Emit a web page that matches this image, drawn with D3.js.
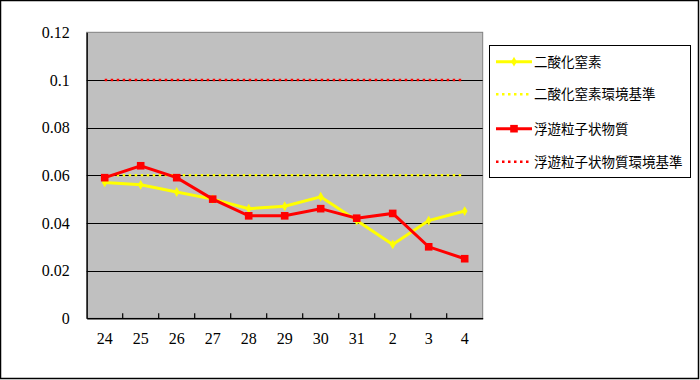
<!DOCTYPE html>
<html><head><meta charset="utf-8">
<script src="https://cdn.jsdelivr.net/npm/d3@7"></script>
<style>body{margin:0;background:#fff}svg{display:block}</style>
</head><body><svg id="c" width="700" height="380"></svg>
<script>
const categories = ["24","25","26","27","28","29","30","31","2","3","4"];
const no2 = [0.057,0.056,0.053,0.050,0.046,0.047,0.051,0.041,0.031,0.041,0.045];
const spm = [0.059,0.064,0.059,0.050,0.043,0.043,0.046,0.042,0.044,0.030,0.025];
const no2Std = 0.06;
const spmStd = 0.1;
const yTicks = [0,0.02,0.04,0.06,0.08,0.1,0.12];
const seriesNames = ["二酸化窒素","二酸化窒素環境基準","浮遊粒子状物質","浮遊粒子状物質環境基準"];

const SERIF = "'Liberation Serif', 'DejaVu Serif', serif";
const svg = d3.select("#c");
svg.append("rect").attr("x",0.5).attr("y",0.5).attr("width",698).attr("height",378)
  .attr("fill","#fff").attr("stroke","#000").attr("stroke-width",1.5);

const L=86.7, R=482.7, T=32.3, B=318.3;
const x = d3.scaleBand().domain(categories).range([L,R]);
const y = d3.scaleLinear().domain([0,0.12]).range([B,T]);
const cx = c => x(c)+x.bandwidth()/2;

svg.append("rect").attr("x",L).attr("y",T).attr("width",R-L).attr("height",B-T)
  .attr("fill","#c0c0c0").attr("stroke","#808080").attr("stroke-width",1);

svg.append("g").selectAll("line").data(yTicks.filter(v=>v>0&&v<0.12)).join("line")
  .attr("x1",L).attr("x2",R).attr("y1",d=>Math.round(y(d))+0.5).attr("y2",d=>Math.round(y(d))+0.5)
  .attr("stroke","#000").attr("stroke-width",1.2);

const ya = svg.append("g").attr("transform",`translate(${L},0)`)
  .call(d3.axisLeft(y).tickValues(yTicks).tickSize(0).tickPadding(17).tickFormat(d=>String(+d.toFixed(2))));
ya.selectAll("text").style("font-family",SERIF).style("font-size","16px").attr("fill","#000");
ya.select(".domain").attr("stroke","#000").attr("stroke-width",1.3);

const xa = svg.append("g").attr("transform",`translate(0,${B})`)
  .call(d3.axisBottom(x).tickSize(0).tickPadding(14));
xa.selectAll("text").style("font-family",SERIF).style("font-size","16px").attr("fill","#000");
xa.select(".domain").attr("stroke","#000").attr("stroke-width",1.5);
svg.append("g").selectAll("line").data(categories.slice(1)).join("line")
  .attr("x1",d=>x(d)).attr("x2",d=>x(d)).attr("y1",B).attr("y2",B-5)
  .attr("stroke","#000").attr("stroke-width",1.2);

const c0=cx(categories[0]), c1=cx(categories[categories.length-1]);
svg.append("line").attr("x1",c0).attr("x2",c1).attr("y1",y(no2Std)).attr("y2",y(no2Std))
  .attr("stroke","#ffff00").attr("stroke-width",2.5).attr("stroke-dasharray","2.5,3.5");
svg.append("line").attr("x1",c0).attr("x2",c1).attr("y1",y(spmStd)).attr("y2",y(spmStd))
  .attr("stroke","#ff0000").attr("stroke-width",2.5).attr("stroke-dasharray","2.5,3.5");

const line = d3.line().x((d,i)=>cx(categories[i])).y(d=>y(d));
svg.append("path").datum(no2).attr("d",line).attr("fill","none").attr("stroke","#ffff00").attr("stroke-width",3);
svg.append("g").selectAll("path").data(no2).join("path")
  .attr("d",d3.symbol(d3.symbolDiamond,28))
  .attr("transform",(d,i)=>`translate(${cx(categories[i])},${y(d)})`).attr("fill","#ffff00");
svg.append("path").datum(spm).attr("d",line).attr("fill","none").attr("stroke","#ff0000").attr("stroke-width",3);
svg.append("g").selectAll("rect").data(spm).join("rect")
  .attr("x",(d,i)=>cx(categories[i])-3.8).attr("y",d=>y(d)-3.8).attr("width",7.6).attr("height",7.6).attr("fill","#ff0000");

const lg = svg.append("g");
lg.append("rect").attr("x",489.5).attr("y",45.5).attr("width",201).attr("height",132)
  .attr("fill","#fff").attr("stroke","#000").attr("stroke-width",1);
const ly = [61.7,94.3,128.7,161.7];
const styles = [
  {c:"#ffff00",dash:null,m:"d"},
  {c:"#ffff00",dash:"2.5,3.5",m:null},
  {c:"#ff0000",dash:null,m:"s"},
  {c:"#ff0000",dash:"2.5,3.5",m:null}];
seriesNames.forEach((n,i)=>{
  const s=styles[i];
  const ln = lg.append("line").attr("x1",496).attr("x2",532).attr("y1",ly[i]).attr("y2",ly[i])
    .attr("stroke",s.c).attr("stroke-width",s.dash?2.5:3);
  if(s.dash) ln.attr("stroke-dasharray",s.dash);
  if(s.m==="d") lg.append("path").attr("d",d3.symbol(d3.symbolDiamond,28)).attr("transform",`translate(514,${ly[i]})`).attr("fill",s.c);
  if(s.m==="s") lg.append("rect").attr("x",514-3.8).attr("y",ly[i]-3.8).attr("width",7.6).attr("height",7.6).attr("fill",s.c);
  lg.append("text").attr("x",534).attr("y",ly[i]).attr("dy","0.36em")
    .style("font-family","'Noto Sans CJK JP', sans-serif").style("font-size","13.5px").attr("fill","#000").text(n);
});
</script></body></html>
